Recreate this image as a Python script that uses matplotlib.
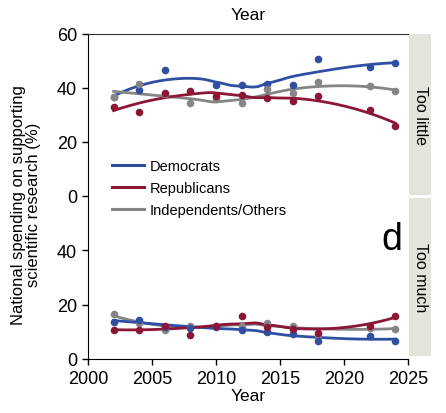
import numpy as np
import matplotlib.pyplot as plt
from matplotlib.lines import Line2D
from matplotlib.patches import Rectangle

plt.rcParams['font.family'] = ['Liberation Sans', 'DejaVu Sans']

years = [2002, 2004, 2006, 2008, 2010, 2012, 2014, 2016, 2018, 2022, 2024]
years_dem_little = [2002, 2004, 2006, 2010, 2012, 2014, 2016, 2018, 2022, 2024]

# "Too little" panel
dem_little = [36.8, 39.4, 46.8, 41.2, 41.2, 41.3, 41.1, 50.7, 47.9, 49.3]
rep_little = [33.1, 31.0, 38.0, 39.0, 36.9, 37.4, 36.2, 35.1, 36.9, 31.9, 26.0]
ind_little = [36.5, 41.5, 37.8, 34.4, 35.9, 34.3, 39.8, 38.0, 42.1, 40.9, 38.8]

# "Too much" panel
dem_much = [13.8, 14.4, 11.9, 11.5, 11.7, 10.8, 9.8, 9.1, 6.5, 8.4, 6.8]
rep_much = [10.7, 10.8, 12.0, 8.9, 12.3, 15.7, 11.7, 11.1, 9.6, 12.3, 16.0]
ind_much = [16.5, 13.2, 10.8, 12.1, 12.0, 12.3, 13.2, 12.3, 9.0, 11.4, 11.2]

blue = '#2f4fa3'
red = '#8c1636'
gray = '#858585'


def loess(x, y, xs, span=0.75):
    x = np.asarray(x, float)
    y = np.asarray(y, float)
    n = len(x)
    k = int(np.ceil(span * n))
    out = []
    for x0 in xs:
        d = np.abs(x - x0)
        h = np.sort(d)[k - 1]
        w = (1 - np.clip(d / h, 0, 1) ** 3) ** 3
        A = np.vstack([np.ones(n), x - x0, (x - x0) ** 2]).T
        W = np.diag(w)
        beta = np.linalg.lstsq(A.T @ W @ A, A.T @ W @ y, rcond=None)[0]
        out.append(beta[0])
    return np.array(out)


fig = plt.figure(figsize=(4.46, 4.14), dpi=100)
ax1 = fig.add_axes([88 / 446, 1 - 197 / 414, 320 / 446, 162 / 414])
ax2 = fig.add_axes([88 / 446, 1 - 360 / 414, 320 / 446, 163 / 414])

xs = np.linspace(2002, 2024, 200)
series = [
    (ax1, years_dem_little, dem_little, blue),
    (ax1, years, ind_little, gray),
    (ax1, years, rep_little, red),
    (ax2, years, ind_much, gray),
    (ax2, years, dem_much, blue),
    (ax2, years, rep_much, red),
]
for ax, xv, yv, c in series:
    ax.plot(xs, loess(xv, yv, xs), color=c, lw=2, zorder=2)
    ax.scatter(xv, yv, s=30, color=c, zorder=3, linewidths=0)

for ax in (ax1, ax2):
    ax.set_xlim(2000, 2025)
    ax.set_ylim(0, 60)
    ax.spines['right'].set_visible(False)
    ax.tick_params(labelsize=13, length=4, width=1, direction='out')
    ax.tick_params(axis='y', pad=4)
    ax.tick_params(axis='x', pad=4)

ax1.set_yticks([0, 20, 40, 60])
ax1.set_xticks([])
ax1.spines['top'].set_color('#333333')
ax1.spines['bottom'].set_color('#d8d8d8')
ax1.spines['bottom'].set_linewidth(0.8)
ax1.xaxis.set_label_position('top')
ax1.set_xlabel('Year', fontsize=12.5, labelpad=11)

ax2.set_yticks([0, 20, 40])
ax2.spines['top'].set_visible(False)
ax2.set_xticks([2000, 2005, 2010, 2015, 2020, 2025])
ax2.set_xlabel('Year', fontsize=12.5, labelpad=1)

fig.text(26 / 446, 1 - 205 / 414,
         'National spending on supporting\nscientific research (%)',
         rotation=90, ha='center', va='center', fontsize=12, linespacing=1.05)

# facet strips
for y0, y1, lab in [(35, 196, 'Too little'), (199, 357, 'Too much')]:
    fig.patches.append(Rectangle((409 / 446, 1 - y1 / 414), 22 / 446, (y1 - y0) / 414,
                                 transform=fig.transFigure, facecolor='#e4e4dd',
                                 edgecolor='none'))
    fig.text(420 / 446, 1 - (y0 + y1) / 2 / 414, lab, rotation=-90,
             ha='center', va='center', fontsize=11.5)

fig.text(392 / 446, 1 - 240 / 414, 'd', ha='center', va='center', fontsize=27)

handles = [Line2D([], [], color=blue, lw=2.2),
           Line2D([], [], color=red, lw=2.2),
           Line2D([], [], color=gray, lw=2.2)]
fig.legend(handles, ['Democrats', 'Republicans', 'Independents/Others'],
           loc='upper left', bbox_to_anchor=(106 / 446, 1 - 154 / 414),
           frameon=False, fontsize=10.5, handlelength=2.2, handletextpad=0.4,
           labelspacing=0.55, borderaxespad=0)

fig.savefig('out.png', dpi=100)
